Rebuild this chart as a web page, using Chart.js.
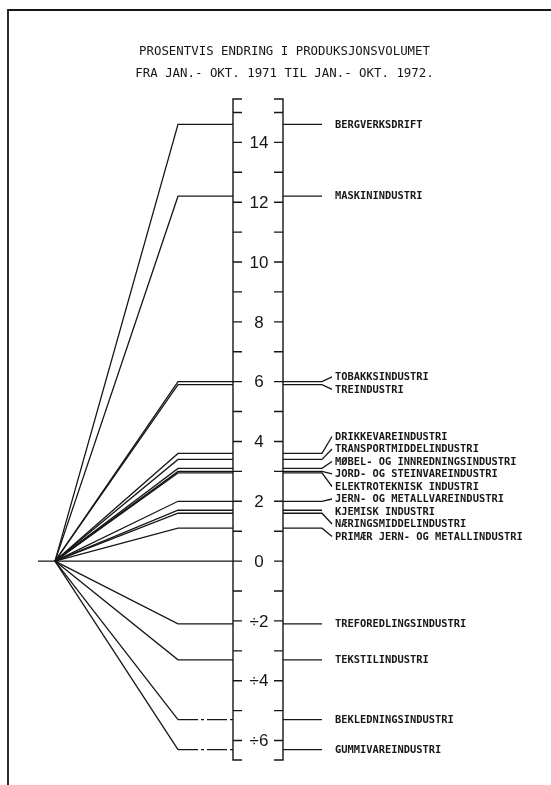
<!DOCTYPE html>
<html>
<head>
<meta charset="utf-8">
<script src="https://cdn.jsdelivr.net/npm/chart.js@4.4.1/dist/chart.umd.min.js"></script>
<style>
  html, body { margin: 0; padding: 0; background: #fff; }
  #wrap { width: 551px; height: 785px; position: relative; }
</style>
</head>
<body>
<div id="wrap"><canvas id="chart"></canvas></div>
<script>
// Data (percent change, Jan.-Oct. 1971 -> Jan.-Oct. 1972)
const industries = [
    'BERGVERKSDRIFT',
    'MASKININDUSTRI',
    'TOBAKKSINDUSTRI',
    'TREINDUSTRI',
    'DRIKKEVAREINDUSTRI',
    'TRANSPORTMIDDELINDUSTRI',
    'MØBEL- OG INNREDNINGSINDUSTRI',
    'JORD- OG STEINVAREINDUSTRI',
    'ELEKTROTEKNISK INDUSTRI',
    'JERN- OG METALLVAREINDUSTRI',
    'KJEMISK INDUSTRI',
    'NÆRINGSMIDDELINDUSTRI',
    'PRIMÆR JERN- OG METALLINDUSTRI',
    'TREFOREDLINGSINDUSTRI',
    'TEKSTILINDUSTRI',
    'BEKLEDNINGSINDUSTRI',
    'GUMMIVAREINDUSTRI'
];
const changes = [14.6, 12.2, 6.0, 5.9, 3.6, 3.4, 3.1, 3.0, 2.95, 2.0, 1.7, 1.6, 1.1, -2.1, -3.3, -5.3, -6.3];

const majorTicks = [14, 12, 10, 8, 6, 4, 2, 0, -2, -4, -6];
const minorTicks = [15, 13, 11, 9, 7, 5, 3, 1, -1, -3, -5];

const titleLines = [
    'PROSENTVIS ENDRING I PRODUKSJONSVOLUMET',
    'FRA JAN.- OKT. 1971 TIL JAN.- OKT. 1972.'
];

// industries drawn with a broken line between knee and scale
const dashedIndustries = ['BEKLEDNINGSINDUSTRI', 'GUMMIVAREINDUSTRI'];

const INK = '#161616';
const MONO = '"DejaVu Sans Mono", "Liberation Mono", monospace';
const NUMS = '"Liberation Sans", "DejaVu Sans", sans-serif';

// horizontal layout (x scale runs in page pixels)
const GEOM = {
    stubX: 38,
    originX: 55,
    kneeX: 178,
    axisLeft: 233,
    axisRight: 283,
    tickLen: 9,
    leaderEnd: 322,
    labelX: 335,
    labelGap: 12.5
};

function tickText(v) {
    return v < 0 ? '÷' + Math.abs(v) : String(v);
}

// push crowded labels apart, keeping each group centred on its lines
function spreadLabels(pixels, gap) {
    const blocks = pixels.map(p => ({ sum: p, n: 1 }));
    const top = b => b.sum / b.n - (b.n - 1) * gap / 2;
    let changed = true;
    while (changed) {
        changed = false;
        for (let i = 0; i < blocks.length - 1; i++) {
            const a = blocks[i], b = blocks[i + 1];
            if (top(b) - (top(a) + (a.n - 1) * gap) < gap) {
                blocks.splice(i, 2, { sum: a.sum + b.sum, n: a.n + b.n });
                changed = true;
                break;
            }
        }
    }
    const out = [];
    blocks.forEach(b => {
        for (let k = 0; k < b.n; k++) out.push(top(b) + k * gap);
    });
    return out;
}

const datasets = industries.map((name, i) => ({
    label: name,
    data: [
        { x: GEOM.originX, y: 0 },
        { x: GEOM.kneeX, y: changes[i] },
        { x: GEOM.axisLeft, y: changes[i] }
    ],
    borderColor: INK,
    borderWidth: 1.3,
    pointRadius: 0,
    tension: 0,
    segment: dashedIndustries.includes(name)
        ? { borderDash: ctx => (ctx.p0DataIndex === 1 ? [20, 3, 3, 3] : undefined) }
        : undefined
}));

// zero line through the fan's origin
datasets.push({
    label: 'null',
    data: [{ x: GEOM.stubX, y: 0 }, { x: GEOM.axisLeft, y: 0 }],
    borderColor: INK,
    borderWidth: 1.3,
    pointRadius: 0
});

const scalePlugin = {
    id: 'scalePlugin',
    beforeDraw(chart) {
        const ctx = chart.ctx;
        ctx.save();
        ctx.fillStyle = '#fff';
        ctx.fillRect(0, 0, chart.width, chart.height);
        // page frame (left and top edges)
        ctx.strokeStyle = INK;
        ctx.lineWidth = 1.8;
        ctx.beginPath();
        ctx.moveTo(8, chart.height);
        ctx.lineTo(8, 10);
        ctx.lineTo(chart.width, 10);
        ctx.stroke();
        ctx.restore();
    },
    afterDatasetsDraw(chart) {
        const { ctx, scales: { x, y } } = chart;
        const xl = x.getPixelForValue(GEOM.axisLeft);
        const xr = x.getPixelForValue(GEOM.axisRight);
        const top = y.getPixelForValue(y.max);
        const bottom = y.getPixelForValue(y.min);
        const t = GEOM.tickLen;

        ctx.save();
        ctx.strokeStyle = INK;
        ctx.lineWidth = 1.4;
        ctx.beginPath();
        ctx.moveTo(xl + t, top); ctx.lineTo(xl, top); ctx.lineTo(xl, bottom); ctx.lineTo(xl + t, bottom);
        ctx.moveTo(xr - t, top); ctx.lineTo(xr, top); ctx.lineTo(xr, bottom); ctx.lineTo(xr - t, bottom);
        majorTicks.concat(minorTicks).forEach(v => {
            const py = y.getPixelForValue(v);
            ctx.moveTo(xl, py); ctx.lineTo(xl + t, py);
            ctx.moveTo(xr - t, py); ctx.lineTo(xr, py);
        });
        ctx.stroke();

        ctx.fillStyle = INK;
        ctx.font = '17px ' + NUMS;
        ctx.textAlign = 'center';
        ctx.textBaseline = 'middle';
        majorTicks.forEach(v => {
            ctx.fillText(tickText(v), (xl + xr) / 2 + 1, y.getPixelForValue(v) + 1);
        });

        // leaders and industry names right of the scale
        const lineY = changes.map(v => y.getPixelForValue(v));
        const labelY = spreadLabels(lineY, GEOM.labelGap);
        const xe = x.getPixelForValue(GEOM.leaderEnd);
        const xt = x.getPixelForValue(GEOM.labelX);
        ctx.lineWidth = 1.3;
        ctx.beginPath();
        lineY.forEach((ly, i) => {
            ctx.moveTo(xr, ly);
            ctx.lineTo(xe, ly);
            if (Math.abs(labelY[i] - ly) > 2) ctx.lineTo(xt - 3, labelY[i]);
        });
        ctx.stroke();

        ctx.font = 'bold 10.4px ' + MONO;
        ctx.textAlign = 'left';
        industries.forEach((name, i) => ctx.fillText(name, xt, labelY[i] + 0.5));
        ctx.restore();
    }
};

new Chart(document.getElementById('chart'), {
    type: 'line',
    data: { datasets },
    options: {
        responsive: true,
        maintainAspectRatio: false,
        animation: false,
        events: [],
        layout: {
            autoPadding: false,
            padding: { left: 18, right: 0, top: 0, bottom: 25 }
        },
        scales: {
            x: { type: 'linear', display: false, min: 18, max: 551 },
            y: { type: 'linear', display: false, min: -6.65, max: 15.45 }
        },
        plugins: {
            legend: { display: false },
            tooltip: { enabled: false },
            title: {
                display: true,
                text: titleLines,
                color: INK,
                font: { family: MONO, size: 12.4, weight: 'normal', lineHeight: 22 / 12.4 },
                padding: { top: 41, bottom: 14 }
            }
        }
    },
    plugins: [scalePlugin]
});
</script>
</body>
</html>
